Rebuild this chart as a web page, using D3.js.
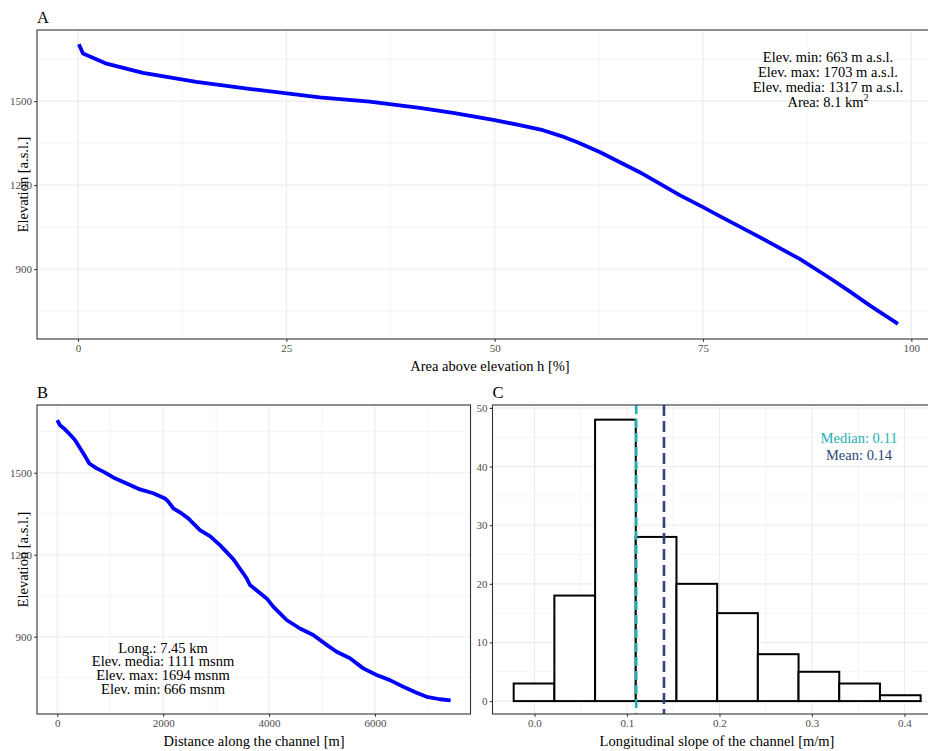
<!DOCTYPE html>
<html>
<head>
<meta charset="utf-8">
<script src="https://cdnjs.cloudflare.com/ajax/libs/d3/7.8.5/d3.min.js"></script>
<style>
    body { margin: 0; background: #ffffff; }
    svg { display: block; font-family: "Liberation Serif", "Times New Roman", serif; }
</style>
</head>
<body>
<svg id="svgId"></svg>
<script>

// Panel A: hypsometric curve
var hypsoArea = [0.1, 0.6, 3.3, 7.8, 14.2, 21, 29, 35, 41, 45, 50, 53, 55.8, 58, 60, 62.6, 67.4, 72.2, 75, 77, 81.8, 86.6, 90.2, 92.6, 95, 98.4];
var hypsoElev = [1703, 1670, 1635, 1601, 1569, 1542, 1513, 1498, 1476, 1458, 1432, 1414, 1396, 1375, 1352, 1318, 1246, 1164, 1121, 1089, 1014, 936, 868, 820, 770, 704];
var hypsoNotes = ["Elev. min: 663 m a.s.l.", "Elev. max: 1703 m a.s.l.", "Elev. media: 1317 m a.s.l.", "Area: 8.1 km"];

// Panel B: longitudinal profile of the channel
var profDist = [0, 51, 145, 240, 334, 429, 523, 605, 744, 869, 1058, 1311, 1562, 1813, 2034, 2097, 2191, 2349, 2474, 2695, 2884, 3073, 3324, 3577, 3639, 3955, 4079, 4332, 4584, 4835, 5088, 5276, 5528, 5779, 6032, 6283, 6535, 6787, 6976, 7228, 7430];
var profElev = [1693, 1674, 1659, 1640, 1620, 1591, 1561, 1534, 1516, 1504, 1483, 1461, 1439, 1425, 1406, 1394, 1370, 1351, 1333, 1290, 1268, 1235, 1184, 1114, 1089, 1040, 1010, 961, 930, 906, 870, 845, 821, 784, 760, 741, 717, 695, 680, 671, 667];
var profNotes = ["Long.: 7.45 km", "Elev. media: 1111 msnm", "Elev. max: 1694 msnm", "Elev. min: 666 msnm"];

// Panel C: histogram of channel slope
var slopeLower = [-0.0225, 0.0215, 0.0655, 0.1095, 0.1535, 0.1975, 0.2415, 0.2855, 0.3295, 0.3735];
var slopeCounts = [3, 18, 48, 28, 20, 15, 8, 5, 3, 1];
var slopeBinWidth = 0.044;
var slopeMedian = 0.11;
var slopeMean = 0.14;

var W = 928, H = 751;
var gridCol = "#ebebeb", borderCol = "#333333", tickTextCol = "#4d4d4d";
var medianCol = "#1fb0b4", meanCol = "#2b4678";

var svg = d3.select("#svgId").attr("width", W).attr("height", H);
svg.append("rect").attr("width", W).attr("height", H).attr("fill", "#ffffff");

function drawGrid(g, p) {
    var lines = [];
    p.xMinor.forEach(function (d) { lines.push({ v: d, dir: "x", w: 0.55 }); });
    p.yMinor.forEach(function (d) { lines.push({ v: d, dir: "y", w: 0.55 }); });
    p.xTicks.forEach(function (d) { lines.push({ v: d, dir: "x", w: 1.1 }); });
    p.yTicks.forEach(function (d) { lines.push({ v: d, dir: "y", w: 1.1 }); });

    g.selectAll("line.grid").data(lines).enter().append("line")
        .attr("class", "grid")
        .attr("x1", function (d) { return d.dir == "x" ? p.x(d.v) : p.left; })
        .attr("x2", function (d) { return d.dir == "x" ? p.x(d.v) : p.right; })
        .attr("y1", function (d) { return d.dir == "y" ? p.y(d.v) : p.top; })
        .attr("y2", function (d) { return d.dir == "y" ? p.y(d.v) : p.bottom; })
        .attr("stroke", gridCol)
        .attr("stroke-width", function (d) { return d.w; });
}

function drawFrame(g, p) {
    g.append("rect")
        .attr("x", p.left).attr("y", p.top)
        .attr("width", p.right - p.left).attr("height", p.bottom - p.top)
        .attr("fill", "none").attr("stroke", borderCol).attr("stroke-width", 1.1);

    var xAxis = g.append("g")
        .attr("transform", "translate(0," + p.bottom + ")")
        .call(d3.axisBottom(p.x).tickValues(p.xTicks).tickFormat(p.xFormat).tickSize(2.75).tickPadding(2.5));
    var yAxis = g.append("g")
        .attr("transform", "translate(" + p.left + ",0)")
        .call(d3.axisLeft(p.y).tickValues(p.yTicks).tickFormat(p.yFormat).tickSize(2.75).tickPadding(2.2));

    [xAxis, yAxis].forEach(function (a) {
        a.select(".domain").remove();
        a.attr("font-family", null).attr("font-size", 11);
        a.selectAll(".tick line").attr("stroke", borderCol).attr("stroke-width", 1.1);
        a.selectAll(".tick text").attr("fill", tickTextCol);
    });

    // panel tag
    g.append("text").attr("x", p.left).attr("y", p.top - 7)
        .attr("font-size", 16.5).attr("fill", "#000").text(p.tag);

    g.append("text").attr("x", p.xLabelX).attr("y", p.bottom + 32)
        .attr("text-anchor", "middle").attr("font-size", 14.5).attr("fill", "#000")
        .text(p.xLabel);

    if (p.yLabel) {
        g.append("text")
            .attr("transform", "translate(23," + ((p.top + p.bottom) / 2) + ") rotate(-90)")
            .attr("text-anchor", "middle").attr("dominant-baseline", "central")
            .attr("font-size", 14.5).attr("fill", "#000")
            .text(p.yLabel);
    }
}

function drawNotes(g, lines, cx, cy, step, colors) {
    var t = g.append("g");
    lines.forEach(function (s, i) {
        t.append("text").attr("x", cx).attr("y", cy + i * step)
            .attr("text-anchor", "middle").attr("dominant-baseline", "central")
            .attr("font-size", 14.5).attr("fill", colors ? colors[i] : "#000")
            .text(s);
    });
    return t;
}

// ---------- A ----------
var pA = {
    tag: "A", left: 37, right: 943, top: 30, bottom: 339,
    xTicks: [0, 25, 50, 75, 100], xMinor: [12.5, 37.5, 62.5, 87.5],
    yTicks: [900, 1200, 1500], yMinor: [750, 1050, 1350, 1650],
    xFormat: d3.format("d"), yFormat: d3.format("d"),
    xLabel: "Area above elevation h [%]", xLabelX: 490, yLabel: "Elevation [a.s.l.]"
};
pA.x = d3.scaleLinear().domain([-4.92, 103.8]).range([pA.left, pA.right]);
pA.y = d3.scaleLinear().domain([650, 1754]).range([pA.bottom, pA.top]);

var gA = svg.append("g");
drawGrid(gA, pA);
var lineA = d3.line()
    .x(function (d, i) { return pA.x(hypsoArea[i]); })
    .y(function (d) { return pA.y(d); });
gA.append("path").datum(hypsoElev)
    .attr("fill", "none").attr("stroke", "#0000ff")
    .attr("stroke-width", 3.8).attr("stroke-linejoin", "round")
    .attr("d", lineA);
var notesA = drawNotes(gA, hypsoNotes, 828, 57, 15);
notesA.select("text:last-child").append("tspan")
    .attr("dy", -5).attr("font-size", 10).text("2");
drawFrame(gA, pA);

// ---------- B ----------
var pB = {
    tag: "B", left: 37, right: 470.5, top: 405, bottom: 714,
    xTicks: [0, 2000, 4000, 6000], xMinor: [1000, 3000, 5000, 7000],
    yTicks: [900, 1200, 1500], yMinor: [750, 1050, 1350, 1650],
    xFormat: d3.format("d"), yFormat: d3.format("d"),
    xLabel: "Distance along the channel [m]", xLabelX: 254, yLabel: "Elevation [a.s.l.]"
};
pB.x = d3.scaleLinear().domain([-383, 7805]).range([pB.left, pB.right]);
pB.y = d3.scaleLinear().domain([617, 1748]).range([pB.bottom, pB.top]);

var gB = svg.append("g");
drawGrid(gB, pB);
var lineB = d3.line()
    .x(function (d, i) { return pB.x(profDist[i]); })
    .y(function (d) { return pB.y(d); });
gB.append("path").datum(profElev)
    .attr("fill", "none").attr("stroke", "#0000ff")
    .attr("stroke-width", 3.8).attr("stroke-linejoin", "round")
    .attr("d", lineB);
drawNotes(gB, profNotes, 163, 647.5, 13.7);
drawFrame(gB, pB);

// ---------- C ----------
var pC = {
    tag: "C", left: 492.5, right: 941, top: 405, bottom: 714,
    xTicks: [0, 0.1, 0.2, 0.3, 0.4], xMinor: [0.05, 0.15, 0.25, 0.35],
    yTicks: [0, 10, 20, 30, 40, 50], yMinor: [5, 15, 25, 35, 45],
    xFormat: d3.format(".1f"), yFormat: d3.format("d"),
    xLabel: "Longitudinal slope of the channel [m/m]", xLabelX: 717, yLabel: null
};
pC.x = d3.scaleLinear().domain([-0.0454, 0.4395]).range([pC.left, pC.right]);
pC.y = d3.scaleLinear().domain([-2.2, 50.5]).range([pC.bottom, pC.top]);

var gC = svg.append("g");
drawGrid(gC, pC);
gC.selectAll("rect.bar").data(slopeCounts).enter().append("rect")
    .attr("class", "bar")
    .attr("x", function (d, i) { return pC.x(slopeLower[i]); })
    .attr("width", function (d, i) { return pC.x(slopeLower[i] + slopeBinWidth) - pC.x(slopeLower[i]); })
    .attr("y", function (d) { return pC.y(d); })
    .attr("height", function (d) { return pC.y(0) - pC.y(d); })
    .attr("fill", "#ffffff").attr("stroke", "#000000").attr("stroke-width", 2);

gC.append("line")
    .attr("x1", pC.x(slopeMedian)).attr("x2", pC.x(slopeMedian))
    .attr("y1", pC.top).attr("y2", pC.bottom)
    .attr("stroke", medianCol).attr("stroke-width", 2.6).attr("stroke-dasharray", "9,5");
gC.append("line")
    .attr("x1", pC.x(slopeMean)).attr("x2", pC.x(slopeMean))
    .attr("y1", pC.top).attr("y2", pC.bottom)
    .attr("stroke", meanCol).attr("stroke-width", 2.6).attr("stroke-dasharray", "11,5");

drawNotes(gC, ["Median: " + slopeMedian, "Mean: " + slopeMean], 859, 437.5, 17.5, [medianCol, meanCol]);
drawFrame(gC, pC);

</script>
</body>
</html>
